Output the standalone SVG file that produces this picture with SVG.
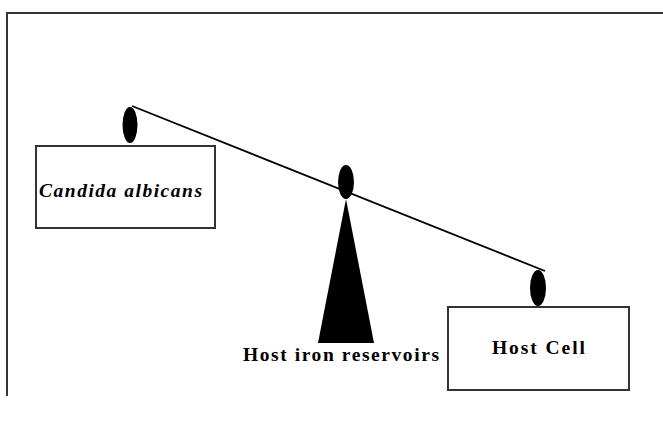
<svg xmlns="http://www.w3.org/2000/svg" width="663" height="421" viewBox="0 0 663 421">
  <style>
    .frame { fill: none; stroke: #333; stroke-width: 2; }
    .box { fill: #fff; stroke: #333; stroke-width: 2; }
    .beam { fill: none; stroke: #000; stroke-width: 1.8; }
    .solid { fill: #000; }
    .lbl { font-family: "Liberation Serif", "Times New Roman", serif; font-weight: bold; font-size: 19.5px; fill: #000; }
    .it { font-style: italic; }
  </style>
  <rect width="663" height="421" fill="#fff"/>
  <!-- outer frame, open to the right and bottom -->
  <path class="frame" d="M7,396 V13 H663"/>

  <g id="connectors">
    <line class="beam" x1="132" y1="106" x2="545" y2="271"/>
  </g>

  <g id="candida">
    <rect class="box" x="36" y="146" width="179" height="82"/>
    <ellipse class="solid" cx="130" cy="125" rx="7.5" ry="18"/>
    <text class="lbl it" x="39" y="197" textLength="163" lengthAdjust="spacing">Candida albicans</text>
  </g>

  <g id="fulcrum">
    <ellipse class="solid" cx="346" cy="182" rx="8" ry="17"/>
    <polygon class="solid" points="346,199 374,343 318,343"/>
    <text class="lbl" x="243" y="361" textLength="196" lengthAdjust="spacing">Host iron reservoirs</text>
  </g>

  <g id="host-cell">
    <rect class="box" x="448" y="307" width="181" height="83"/>
    <ellipse class="solid" cx="538" cy="288" rx="8" ry="18"/>
    <text class="lbl" x="492" y="354" textLength="93" lengthAdjust="spacing">Host Cell</text>
  </g>
</svg>
